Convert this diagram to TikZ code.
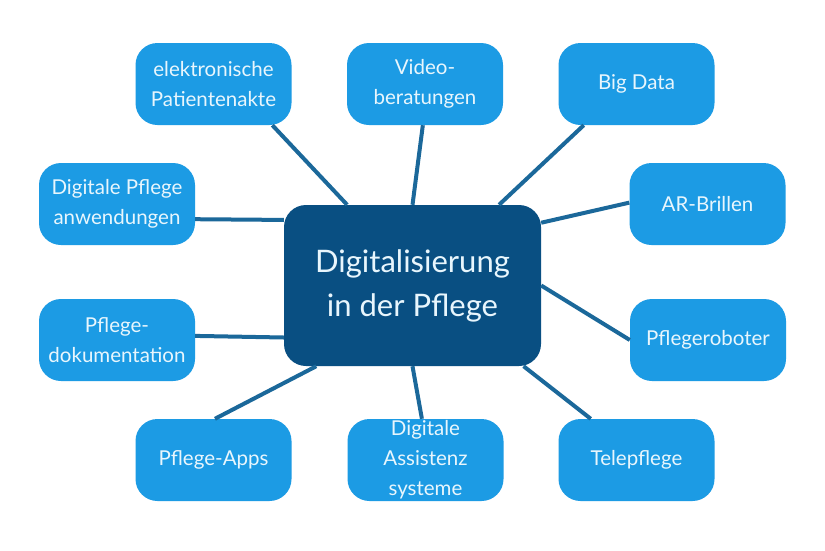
\documentclass[tikz,border=0pt]{standalone}
\usepackage{fontspec}
\setmainfont{Lato}
\definecolor{hubblue}{RGB}{9, 79, 130}
\definecolor{leafblue}{RGB}{28, 155, 228}
\definecolor{linkblue}{RGB}{27, 104, 154}
\definecolor{txt}{RGB}{232, 246, 253}
\begin{document}
\begin{tikzpicture}[x=1pt, y=-1pt,
  hub/.style={fill=hubblue, rounded corners=22pt, minimum width=257pt, minimum height=161pt,
    inner sep=0pt, align=center, text=txt, font=\fontsize{31}{44}\selectfont},
  leaf/.style={fill=leafblue, rounded corners=22pt, minimum width=156pt, minimum height=82pt,
    inner sep=0pt, align=center, text=txt, font=\fontsize{20.5}{30}\selectfont},
  link/.style={draw=linkblue, line width=4pt}]
  \useasboundingbox (0,0) rectangle (825,550);
  \fill[white] (0,0) rectangle (825,550);
  % centre and the ten boxes round it
  \coordinate (c) at (412.5,285.5);
  \node[hub] (hub) at (c) {Digitalisierung\\in der Pflege};
  \node[leaf] (epa) at (213.5,84) {elektronische\\Patientenakte};
  \node[leaf] (video) at (425,84) {Video-\\beratungen};
  \node[leaf] (bigdata) at (636.5,84) {Big Data};
  \node[leaf] (dpa) at (117,204) {Digitale Pflege\\anwendungen};
  \node[leaf] (ar) at (707.5,204) {AR-Brillen};
  \node[leaf] (doku) at (117,340) {Pflege-\\dokumentation};
  \node[leaf] (robo) at (708,340) {Pflegeroboter};
  \node[leaf] (apps) at (213.5,460) {Pflege-Apps};
  \node[leaf] (assist) at (425.5,460) {\fontsize{20.5}{27}\selectfont Digitale\\Assistenz\\systeme};
  \node[leaf] (tele) at (636.5,460) {Telepflege};
  % links
  \draw[link] (epa.-35) -- (hub.129);
  \draw[link] (video.-93) -- (hub.90);
  \draw[link] (bigdata.-142) -- (hub.43);
  \draw[link] (ar.179) -- (hub.26.5);
  \draw[link] (dpa.-11) -- (hub.153.5);
  \draw[link] (doku.3.6) -- (hub.-158);
  \draw[link] (robo.180) -- (hub.-0.7);
  \draw[link] (tele.138) -- (hub.-36.7);
  \draw[link] (assist.95) -- (hub.-90);
  \draw[link] (apps.88) -- (hub.-140);
\end{tikzpicture}
\end{document}
